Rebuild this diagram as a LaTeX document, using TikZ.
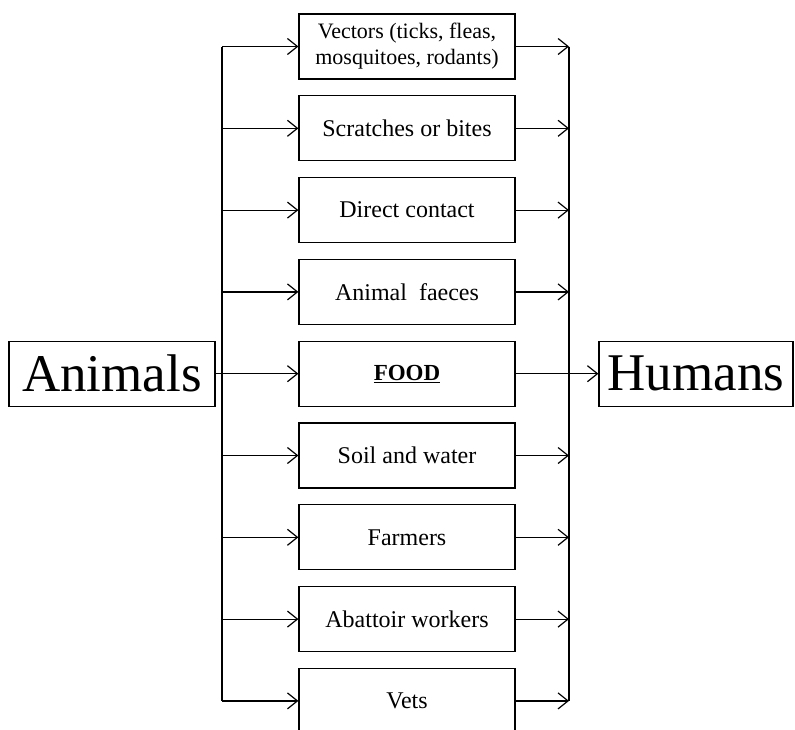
\documentclass[tikz,border=0pt]{standalone}
\usepackage{fontspec}
\setmainfont{Liberation Serif}
\usetikzlibrary{arrows.meta}
\begin{document}
\begin{tikzpicture}[x=1pt,y=-1pt,
  line width=1.2pt,
  mbox/.style={draw, minimum width=216pt, minimum height=65pt, inner sep=0pt, align=center,
    font=\fontsize{24}{26}\selectfont},
  bigbox/.style={draw, minimum height=65pt, inner sep=0pt,
    font=\fontsize{53}{56}\selectfont},
  arr/.style={-{Straight Barb[length=10pt,width=16pt,line width=1.2pt]}}]
\useasboundingbox (0,0) rectangle (795,729);
\clip (0,0) rectangle (795,729);
\node[bigbox, minimum width=206pt] (animals) at (112,373.7) {Animals};
\node[bigbox, minimum width=194pt] (humans) at (696,373.7) {Humans};
\node[mbox, font=\fontsize{22}{26}\selectfont] (b0) at (407,46.5) {Vectors (ticks, fleas,\\mosquitoes, rodants)};
\node[mbox] (b1) at (407,128.3) {Scratches or bites};
\node[mbox] (b2) at (407,210.1) {Direct contact};
\node[mbox] (b3) at (407,291.9) {Animal\ \ faeces};
\node[mbox] (b4) at (407,373.7) {\fontsize{23}{25}\selectfont\underline{\textbf{FOOD}}};
\node[mbox] (b5) at (407,455.5) {Soil and water};
\node[mbox] (b6) at (407,537.3) {Farmers};
\node[mbox] (b7) at (407,619.1) {Abattoir workers};
\node[mbox] (b8) at (407,700.9) {Vets};
\foreach \i/\y in {0/46.5,1/128.3,2/210.1,3/291.9,4/373.7,5/455.5,6/537.3,7/619.1,8/700.9}{
  \coordinate (L\i) at (222,\y);
  \coordinate (R\i) at (569,\y);
}
\draw (L0) -- (L8);
\draw (R0) -- (R8);
\draw (animals.east) -- (L4);
\foreach \i in {0,...,8}{
  \draw[arr] (L\i) -- (b\i.west);
}
\foreach \i in {0,1,2,3,5,6,7,8}{
  \draw[arr] (b\i.east) -- (R\i);
}
\draw[arr] (b4.east) -- (humans.west);
\end{tikzpicture}
\end{document}
